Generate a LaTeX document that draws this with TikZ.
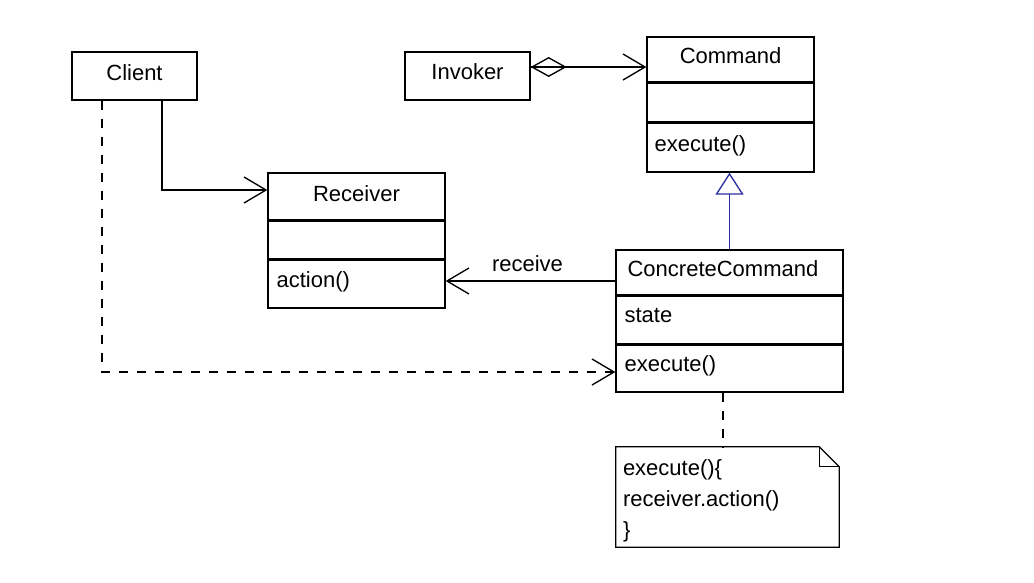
\documentclass[tikz,border=0pt]{standalone}
\usepackage{fontspec}
\setmainfont{Liberation Sans}
\usetikzlibrary{arrows.meta,calc}
\definecolor{genblue}{RGB}{45,45,160}
\begin{document}
\begin{tikzpicture}[x=0.75pt,y=-0.75pt,
  every node/.style={font=\fontsize{16.5}{20}\selectfont},
  box/.style={draw,line width=1pt,rectangle,inner sep=0pt},
  ghost/.style={rectangle,inner sep=0pt},
  divider/.style={line width=2.25pt},
  txt/.style={inner sep=0pt,anchor=base west},
  ttl/.style={inner sep=0pt,anchor=base},
  conn/.style={line width=1pt},
  openhead/.style={-{Straight Barb[length=16.5pt,width=19.5pt,line width=1pt]}},
  dashline/.style={dash pattern=on 6.75pt off 6.75pt}]
\useasboundingbox (0,0) rectangle (1034,582);

% boxes
\node[box,minimum width=93.75pt,minimum height=36pt] (client) at (134.5,76) {};
\node[box,minimum width=93.75pt,minimum height=36pt] (invoker) at (467.5,76) {};
\node[box,minimum width=125.25pt,minimum height=101.25pt] (command) at (730.5,104.5) {};
\node[box,minimum width=132.75pt,minimum height=101.25pt] (receiver) at (356.5,240.5) {};
\node[box,minimum width=170.25pt,minimum height=106.5pt] (ccmd) at (729.5,321) {};
\node[ghost,minimum width=167.25pt,minimum height=75pt] (note) at (727.5,497) {};

% dividers
\draw[divider] ($(command.north west)+(0,46.5)$) -- ($(command.north east)+(0,46.5)$);
\draw[divider] ($(command.north west)+(0,86)$) -- ($(command.north east)+(0,86)$);
\draw[divider] ($(receiver.north west)+(0,48.5)$) -- ($(receiver.north east)+(0,48.5)$);
\draw[divider] ($(receiver.north west)+(0,87.5)$) -- ($(receiver.north east)+(0,87.5)$);
\draw[divider] ($(ccmd.north west)+(0,46)$) -- ($(ccmd.north east)+(0,46)$);
\draw[divider] ($(ccmd.north west)+(0,95)$) -- ($(ccmd.north east)+(0,95)$);

% texts
\node[ttl] (clientT) at ($(client.center)+(0,4)$) {Client};
\node[ttl] (invokerT) at ($(invoker.center)+(0,3)$) {Invoker};
\node[ttl] (commandT) at ($(command.north)+(0,27)$) {Command};
\node[txt] (commandM) at ($(command.north west)+(8,115)$) {execute()};
\node[ttl] (receiverT) at ($(receiver.north)+(0,29)$) {Receiver};
\node[txt] (receiverM) at ($(receiver.north west)+(9,115)$) {action()};
\node[txt] (ccmdT) at ($(ccmd.north west)+(12,27)$) {ConcreteCommand};
\node[txt] (ccmdA) at ($(ccmd.north west)+(9,73)$) {state};
\node[txt] (ccmdM) at ($(ccmd.north west)+(9,122)$) {execute()};

% note
\draw[line width=1pt] (note.north west) -- ($(note.north east)+(-20,0)$) -- ($(note.north east)+(0,20)$) -- (note.south east) -- (note.south west) -- cycle;
\draw[line width=1pt] ($(note.north east)+(-20,0)$) |- ($(note.north east)+(0,20)$);
\node[txt] (n1) at ($(note.north west)+(7,29)$) {execute()\{};
\node[txt] (n2) at ($(note.north west)+(7,60)$) {receiver.action()};
\node[txt] (n3) at ($(note.north west)+(7,91)$) {\}};

% connectors
\coordinate (inv) at ($(invoker.east)+(0,-9)$);
\draw[conn,openhead] (inv) -- (inv -| command.west);
\draw[conn,{Diamond[open,length=27pt,width=15pt,line width=1pt]}-] (inv) -- ($(inv)+(36,0)$);

\draw[conn,genblue,-{Triangle[open,length=16.5pt,width=21pt,line width=1pt]}] (ccmd.north) -- (ccmd.north |- command.south);

\coordinate (cl1) at ($(client.south)+(27.5,0)$);
\coordinate (rc1) at ($(receiver.west)+(0,-50.5)$);
\draw[conn,openhead] (cl1) |- (rc1);

\coordinate (rcv) at ($(ccmd.west)+(0,-40)$);
\draw[conn,openhead] (rcv) -- (rcv -| receiver.east);
\node[ttl] (rcvL) at (527.5,271) {receive};

\coordinate (cl2) at ($(client.south)+(-32.5,0)$);
\coordinate (cc2) at ($(ccmd.west)+(0,51)$);
\draw[conn,dashline,openhead] (cl2) |- (cc2);

\coordinate (nt) at ($(ccmd.south)+(-6.5,0)$);
\draw[conn,dashline] (nt) -- (nt |- note.north);
\end{tikzpicture}
\end{document}
